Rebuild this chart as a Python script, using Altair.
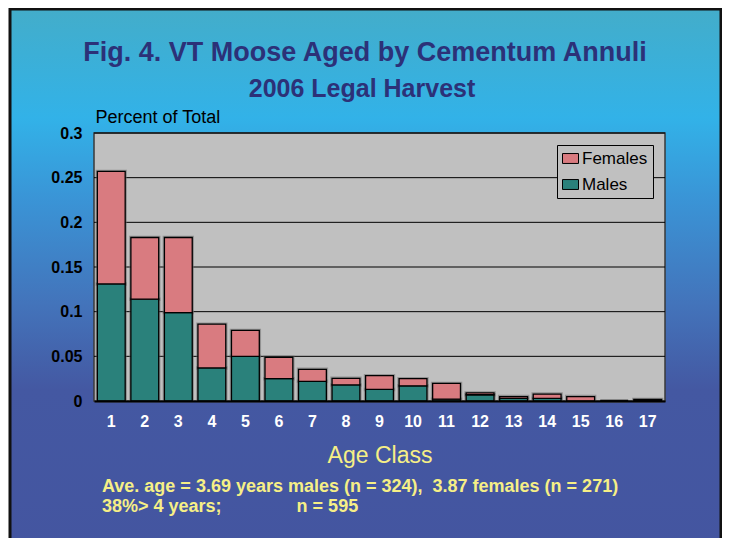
import altair as alt
import pandas as pd

# ---------------- data ----------------
ages = ["1", "2", "3", "4", "5", "6", "7", "8", "9", "10", "11", "12", "13", "14", "15", "16", "17"]
males = [0.131, 0.114, 0.099, 0.037, 0.050, 0.025, 0.022, 0.018, 0.013, 0.017, 0.002, 0.007, 0.003, 0.003, 0.0, 0.0, 0.0]
females = [0.126, 0.069, 0.084, 0.049, 0.029, 0.024, 0.0135, 0.0074, 0.0154, 0.008, 0.0177, 0.002, 0.002, 0.0048, 0.005, 0.0, 0.0017]
series = ["Females", "Males"]
series_colors = ["#d97b80", "#2a817b"]
y_ticks = [0, 0.05, 0.1, 0.15, 0.2, 0.25, 0.3]
grid_values = [0.05, 0.1, 0.15, 0.2, 0.25, 0.3]
title_text = ["Fig. 4. VT Moose Aged by Cementum Annuli"]
subtitle_text = ["2006 Legal Harvest"]
note_line1 = ["Ave. age = 3.69 years males (n = 324),\u00a0 3.87 females (n = 271)"]
note_line2 = ["38%> 4 years;" + "\u00a0" * 15 + "n = 595"]

rows = []
for a, m, f in zip(ages, males, females):
    rows.append({"age": a, "sex": "Males", "value": m, "order": 0})
    rows.append({"age": a, "sex": "Females", "value": f, "order": 1})
df = pd.DataFrame(rows)

W, H = 571, 268
FONT = "Liberation Sans"
NAVY = "#2c3178"
YELLOW = "#f6ef86"

y_scale = alt.Scale(domain=[0, 0.3], nice=False)
y_axis = alt.Axis(
    values=y_ticks, format="~g", grid=False, ticks=False, domain=False,
    labelFont=FONT, labelFontSize=16, labelFontWeight="bold", labelColor="black",
    labelPadding=12,
    title="Percent of Total", titleAngle=0, titleX=1, titleY=-16,
    titleAlign="left", titleBaseline="middle", titleFont=FONT,
    titleFontSize=18, titleFontWeight="normal", titleColor="black", zindex=1,
)
x_axis = alt.Axis(
    labelAngle=0, ticks=False, domain=True, domainColor="black", domainWidth=2,
    grid=False, labelFont=FONT, labelFontSize=16, labelFontWeight="bold",
    labelColor="white", labelPadding=12,
    title="Age Class", titleFont=FONT, titleFontSize=23, titleFontWeight="normal",
    titleColor=YELLOW, titleY=54, titleX=W / 2, titleBaseline="middle", zindex=1,
)
x_enc = alt.X("age:N", sort=ages, scale=alt.Scale(paddingInner=0.17, paddingOuter=0.1), axis=x_axis)
y_enc = alt.Y("value:Q", stack="zero", scale=y_scale, axis=y_axis)

one = pd.DataFrame({"a": [0]})

gradient = alt.LinearGradient(
    gradient="linear",
    stops=[
        alt.GradientStop(offset=0.0, color="#43adca"),
        alt.GradientStop(offset=0.2, color="#32b2e8"),
        alt.GradientStop(offset=0.35, color="#3a94d6"),
        alt.GradientStop(offset=0.54, color="#4374bb"),
        alt.GradientStop(offset=0.70, color="#4458a2"),
        alt.GradientStop(offset=1.0, color="#4455a0"),
    ],
    x1=0, x2=0, y1=0, y2=1,
)

bg = alt.Chart(one).mark_rect(fill=gradient, stroke="#111111", strokeWidth=3).encode(
    x=alt.value(-84), x2=alt.value(627), y=alt.value(-124), y2=alt.value(420)
)
plot_bg = alt.Chart(one).mark_rect(fill="#c0c0c0", stroke="#3a3a3a", strokeWidth=1.5).encode(
    x=alt.value(0), x2=alt.value(W), y=alt.value(0), y2=alt.value(H)
)
grid = alt.Chart(pd.DataFrame({"value": grid_values})).mark_rule(color="black", strokeWidth=1).encode(
    y=alt.Y("value:Q", scale=y_scale, axis=y_axis)
)
shadow = alt.Chart(df).mark_bar(fill="#666666", stroke="#666666", strokeWidth=3.5, opacity=0.5).encode(
    x=x_enc, y=y_enc, detail="sex:N", order=alt.Order("order:Q", sort="ascending")
)
bars = alt.Chart(df).mark_bar(stroke="black", strokeWidth=1.3, opacity=1).encode(
    x=x_enc, y=y_enc,
    color=alt.Color(
        "sex:N",
        scale=alt.Scale(domain=series, range=series_colors),
        legend=alt.Legend(
            title=None, orient="none", legendX=463, legendY=12,
            fillColor="#c0c0c0", strokeColor="black", padding=5,
            labelFont=FONT, labelFontSize=17, labelColor="black", labelOffset=3,
            symbolType="M-1,-0.62H1V0.62H-1Z", symbolSize=256,
            symbolStrokeColor="black", symbolStrokeWidth=1,
            symbolOpacity=1, rowPadding=8, zindex=1,
        ),
    ),
    order=alt.Order("order:Q", sort="ascending"),
)

title1 = alt.Chart(pd.DataFrame({"t": title_text})).mark_text(
    font=FONT, fontSize=27, fontWeight="bold", color=NAVY, align="center", baseline="middle"
).encode(text="t:N", x=alt.value(271), y=alt.value(-80))
title2 = alt.Chart(pd.DataFrame({"t": subtitle_text})).mark_text(
    font=FONT, fontSize=25, fontWeight="bold", color=NAVY, align="center", baseline="middle"
).encode(text="t:N", x=alt.value(268), y=alt.value(-44))
note1 = alt.Chart(pd.DataFrame({"t": note_line1})).mark_text(
    font=FONT, fontSize=18, fontWeight="bold", color=YELLOW, align="left", baseline="middle"
).encode(text="t:N", x=alt.value(8), y=alt.value(354))
note2 = alt.Chart(pd.DataFrame({"t": note_line2})).mark_text(
    font=FONT, fontSize=18, fontWeight="bold", color=YELLOW, align="left", baseline="middle"
).encode(text="t:N", x=alt.value(8), y=alt.value(374))

chart = alt.layer(bg, plot_bg, grid, shadow, bars, title1, title2, note1, note2).properties(
    width=W, height=H,
    autosize=alt.AutoSizeParams(type="none"),
    padding={"left": 86, "top": 125, "right": 57, "bottom": 137},
    background="white",
).configure_view(strokeWidth=0)

chart.save("out.html", embed_options={"renderer": "svg", "actions": False})
